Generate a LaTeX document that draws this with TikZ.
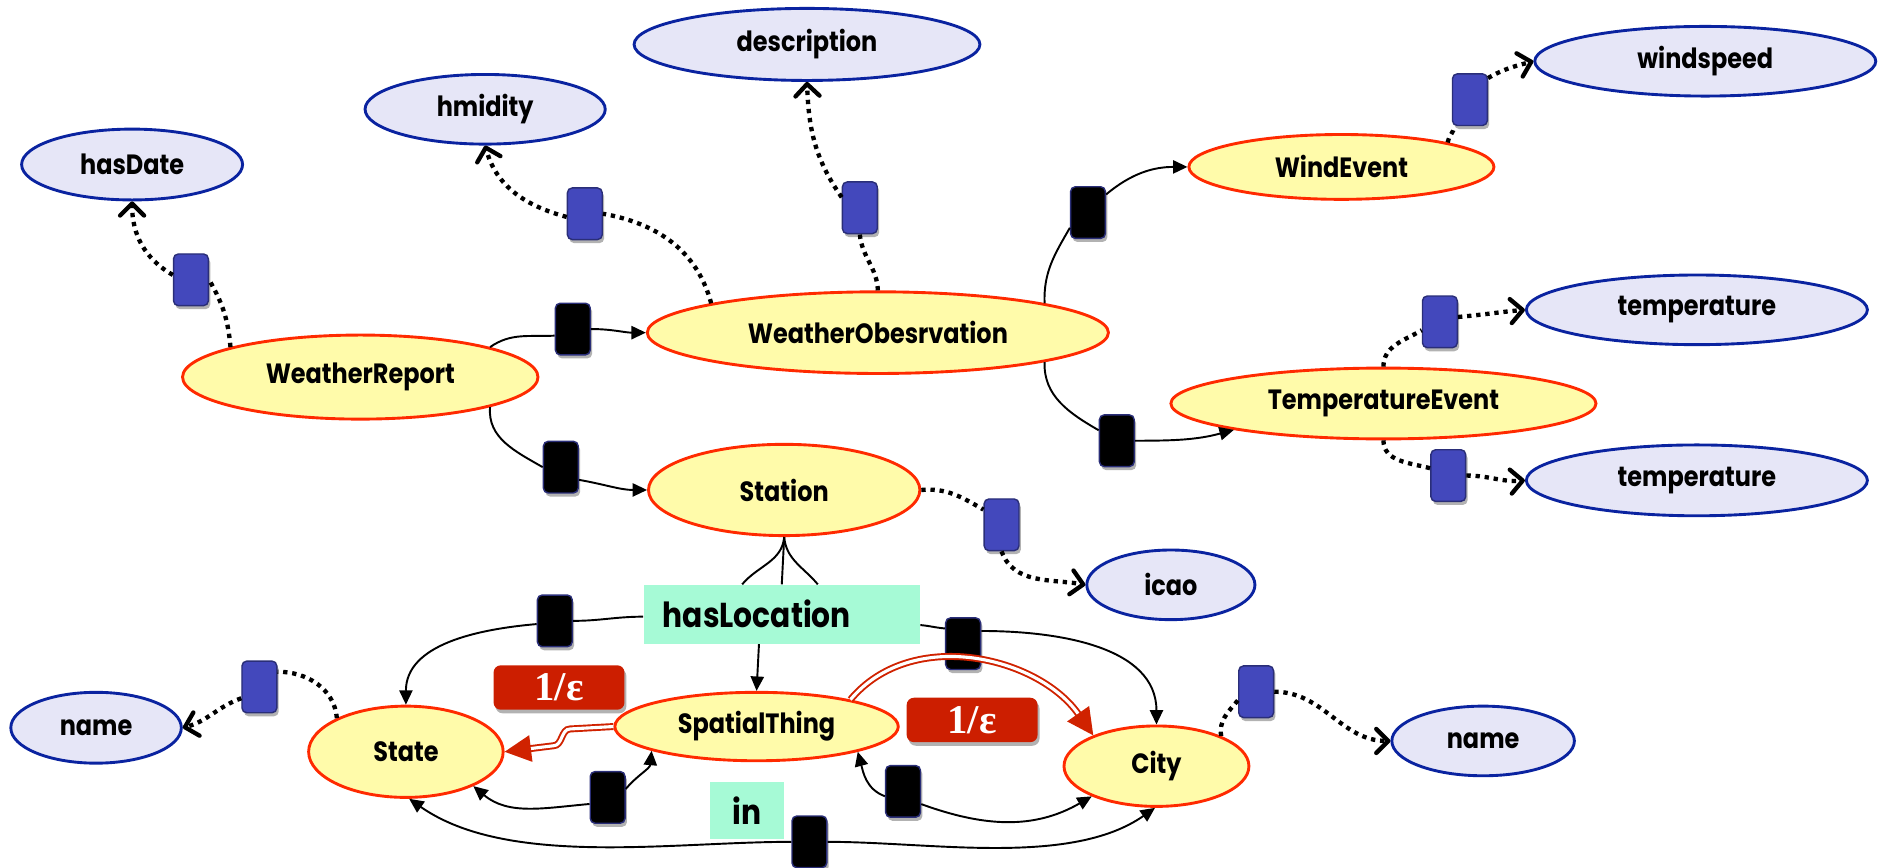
\documentclass[tikz,border=0pt]{standalone}
\usepackage{fontspec}
\setmainfont{Poppins}[FakeStretch=0.86]
\newfontfamily\epsfont{Liberation Serif}
\usetikzlibrary{arrows.meta,shapes.geometric,shadows,calc}

\definecolor{nodefill}{HTML}{FFFBAA}
\definecolor{nodeedge}{HTML}{FF2A00}
\definecolor{litfill}{HTML}{E6E6F7}
\definecolor{litedge}{HTML}{0A23A0}
\definecolor{propblue}{HTML}{4348BC}
\definecolor{propedge}{HTML}{2A2E78}
\definecolor{lblfill}{HTML}{A6FAD6}
\definecolor{redbox}{HTML}{CC1E00}
\definecolor{redline}{HTML}{D02200}

\tikzset{
  cls/.style={ellipse, draw=nodeedge, fill=nodefill, line width=1.2pt, inner sep=0pt,
    font=\fontsize{11.6}{13}\selectfont\bfseries},
  lit/.style={ellipse, draw=litedge, fill=litfill, line width=1.2pt, inner sep=0pt,
    font=\fontsize{11.6}{13}\selectfont\bfseries},
  prop/.style={rectangle, rounded corners=2pt, draw=propedge, line width=0.6pt,
    minimum width=14.5pt, minimum height=21.5pt, inner sep=0pt,
    drop shadow={shadow xshift=0.8pt, shadow yshift=-1.5pt, opacity=0.3, fill=black}},
  dprop/.style={prop, fill=propblue},
  oprop/.style={prop, fill=black},
  lbl/.style={rectangle, fill=lblfill, inner sep=0pt, font=\fontsize{14.4}{16}\selectfont\bfseries},
  epsbox/.style={rectangle, rounded corners=3pt, fill=redbox, text=white,
    minimum width=54.5pt, minimum height=18.5pt, inner sep=0pt,
    font=\epsfont\fontsize{17}{17}\selectfont\bfseries,
    drop shadow={shadow xshift=0.8pt, shadow yshift=-1.5pt, opacity=0.3, fill=black}},
  dotedge/.style={line width=1.8pt, dash pattern=on 1.8pt off 2pt},
  dotarrow/.style={dotedge, -{Straight Barb[length=5pt,width=10pt,round]}},
  link/.style={line width=0.8pt},
  linkarrow/.style={link, -{Triangle[length=6pt,width=5.5pt]}},
  redarrow/.style={draw=redline, line width=0.8pt, double=white, double distance=1.3pt,
    -{Triangle[length=11pt,width=11pt]}},
}

\begin{document}
\begin{tikzpicture}[x=0.5pt,y=0.5pt]
\useasboundingbox (0,0) rectangle (1568,-722);

% class nodes
\node[cls, minimum width=148pt, minimum height=35pt]   (WR) at (300,-314)  {WeatherReport};
\node[cls, minimum width=192pt, minimum height=34pt]   (WO) at (731,-277)  {WeatherObesrvation};
\node[cls, minimum width=127pt, minimum height=27pt]   (WE) at (1117,-139) {WindEvent};
\node[cls, minimum width=177pt, minimum height=29.5pt] (TE) at (1152,-336) {TemperatureEvent};
\node[cls, minimum width=113pt, minimum height=38pt]   (ST) at (653,-408)  {Station};
\node[cls, minimum width=118pt, minimum height=28.5pt] (SP) at (630,-605)  {SpatialThing};
\node[cls, minimum width=81pt,  minimum height=38pt]   (SA) at (338,-626)  {State};
\node[cls, minimum width=77pt,  minimum height=33.5pt] (CI) at (963,-638)  {City};

% literal nodes
\node[lit, minimum width=92pt,  minimum height=29.5pt] (HD) at (110,-137)  {hasDate};
\node[lit, minimum width=100pt, minimum height=29pt]   (HM) at (404,-91)   {hmidity};
\node[lit, minimum width=144pt, minimum height=30pt]   (DE) at (672,-37)   {description};
\node[lit, minimum width=142pt, minimum height=29pt]   (WS) at (1420,-51)  {windspeed};
\node[lit, minimum width=142pt, minimum height=29pt]   (T1) at (1413,-258) {temperature};
\node[lit, minimum width=142pt, minimum height=29.5pt] (T2) at (1413,-400) {temperature};
\node[lit, minimum width=70pt,  minimum height=29pt]   (IC) at (975,-487)  {icao};
\node[lit, minimum width=71pt,  minimum height=29.5pt] (NL) at (80,-606)   {name};
\node[lit, minimum width=76pt,  minimum height=29pt]   (NR) at (1235,-617) {name};

% property markers
\node[dprop] (BB1) at (159,-233) {};
\node[dprop] (BB2) at (487,-178) {};
\node[dprop] (BB3) at (716,-173) {};
\node[dprop] (BB4) at (1224,-83) {};
\node[dprop] (BB5) at (1199,-268) {};
\node[dprop] (BB6) at (1206,-396) {};
\node[dprop] (BB7) at (834,-437) {};
\node[dprop] (BB8) at (216,-572) {};
\node[dprop] (BB9) at (1046,-576) {};

\node[oprop] (K1) at (477,-274) {};
\node[oprop] (K2) at (467,-389) {};
\node[oprop] (K3) at (906,-177) {};
\node[oprop] (K4) at (930,-367) {};
\node[oprop] (K5) at (462,-517) {};
\node[oprop] (K6) at (802,-536) {};
\node[oprop] (K7) at (506,-664) {};
\node[oprop] (K8) at (752,-659) {};
\node[oprop] (K9) at (674,-701) {};

% labels
\node[lbl, minimum width=115pt, minimum height=24.5pt, text width=99pt, align=left, inner xsep=8pt] (HL) at (651,-511.5) {hasLocation};
\node[lbl, minimum width=30.5pt, minimum height=24pt] (IN) at (622,-675) {in};

% dotted datatype edges
\draw[dotedge]  (WR.167) to[out=95,in=-60] (BB1.east);
\draw[dotarrow] (BB1.165) to[out=150,in=-90] (HD.south);
\draw[dotedge]  (WO.170) to[out=105,in=-10] (BB2.east);
\draw[dotarrow] (BB2.190) to[out=165,in=-75] (HM.south);
\draw[dotedge]  (WO.north) to[out=92,in=-85] (BB3.south);
\draw[dotarrow] (BB3.150) to[out=125,in=-88] (DE.south);
\draw[dotedge]  (WE.13) to[out=80,in=-100] (BB4.240);
\draw[dotarrow] (BB4.50) to[out=30,in=195] (WS.west);
\draw[dotedge]  (TE.north) to[out=90,in=210] (BB5.205);
\draw[dotarrow] (BB5.15) to[out=5,in=185] (T1.west);
\draw[dotedge]  (TE.south) to[out=-90,in=165] (BB6.158);
\draw[dotarrow] (BB6.east) to[out=0,in=185] (T2.west);
\draw[dotedge]  (ST.east) to[out=5,in=150] (BB7.140);
\draw[dotarrow] (BB7.south) to[out=-70,in=170] (IC.west);
\draw[dotedge]  (SA.154) to[out=95,in=0] (BB8.40);
\draw[dotarrow] (BB8.212) to[out=200,in=15] (NL.east);
\draw[dotedge]  (CI.25) to[out=100,in=230] (BB9.205);
\draw[dotarrow] (BB9.east) to[out=0,in=180] (NR.west);

% object property edges
\draw[link]      (WR.13) to[out=35,in=183] (K1.200);
\draw[linkarrow] (K1.east) to[out=0,in=180] (WO.west);
\draw[link]      (WR.-13) to[out=-95,in=150] (K2.west);
\draw[linkarrow] (K2.-35) to[out=-10,in=180] (ST.west);
\draw[link]      (WO.10) to[out=92,in=240] (K3.220);
\draw[linkarrow] (K3.45) to[out=40,in=180] (WE.west);
\draw[link]      (WO.-10) to[out=-92,in=150] (K4.150);
\draw[linkarrow] (K4.east) to[out=0,in=195] (TE.190);

% hasLocation
\draw[link] (ST.south) to[out=-95,in=50] ($(HL.north)+(-33,0)$);
\draw[link] (ST.south) -- (HL.north);
\draw[link] (ST.south) to[out=-85,in=130] ($(HL.north)+(30,0)$);
\draw[link]      ($(HL.west)+(0,-2)$) to[out=180,in=0] (K5.east);
\draw[linkarrow] (K5.190) to[out=185,in=90] (SA.north);
\draw[link]      ($(HL.east)+(0,-9)$) to[out=-5,in=175] (K6.140);
\draw[linkarrow] (K6.35) to[out=0,in=90] (CI.north);
\draw[linkarrow] ($(HL.south)+(-19,0)$) -- (SP.north);

% in
\draw[linkarrow] (K7.200) to[out=185,in=-40] (SA.-27);
\draw[linkarrow] (K7.25) to[out=50,in=-95] (SP.193);
\draw[linkarrow] (K8.195) to[out=160,in=-75] (SP.-14);
\draw[linkarrow] (K8.-35) to[out=-20,in=210] (CI.205);
\draw[linkarrow] (K9.west) to[out=180,in=-35,looseness=0.8] (SA.-86);
\draw[linkarrow] (K9.east) to[out=0,in=-145,looseness=0.8] (CI.-92);

% red 1/eps edges
\draw[redarrow] (SP.west) -- ++(-36,-2) to[out=180,in=0] ++(-14,-14) -- (SA.east);
\draw[redarrow] (SP.16) to[out=50,in=125] (CI.154);
\node[epsbox] (E1) at (465.5,-572.5) {1/ε};
\node[epsbox] (E2) at (809.5,-599.5) {1/ε};
\end{tikzpicture}
\end{document}
